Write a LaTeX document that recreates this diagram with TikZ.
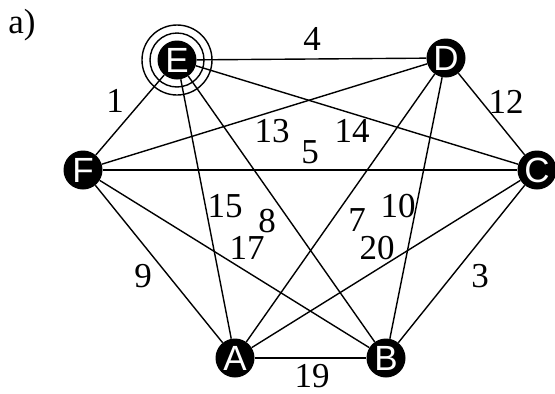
\documentclass[tikz,border=0pt]{standalone}
\usepackage{fontspec}
\setmainfont{Liberation Serif}
\setsansfont{Liberation Sans}
\begin{document}
\begin{tikzpicture}[x=1pt,y=-1pt,
  vtx/.style={circle,fill=black,text=white,inner sep=0pt,minimum size=39pt,
    font=\sffamily\fontsize{35}{35}\selectfont},
  edge/.style={line width=1.4pt},
  wlab/.style={font=\fontsize{35}{35}\selectfont,inner sep=0pt},
  ring/.style={line width=1.4pt}]
\useasboundingbox (0,0) rectangle (555,394);
\node[vtx] (E) at (177,60) {E};
\node[vtx] (D) at (446,58) {D};
\node[vtx] (C) at (537,170) {C};
\node[vtx] (F) at (83,170) {F};
\node[vtx] (A) at (235,358) {A};
\node[vtx] (B) at (386,358) {B};
\draw[ring] (E.center) circle (27);
\draw[ring] (E.center) circle (35);
\begin{scope}[edge]
\draw (E) -- (D);
\draw (E) -- (F);
\draw (E) -- (C);
\draw (E) -- (A);
\draw (E) -- (B);
\draw (D) -- (F);
\draw (D) -- (C);
\draw (D) -- (A);
\draw (D) -- (B);
\draw (F) -- (C);
\draw (F) -- (A);
\draw (F) -- (B);
\draw (C) -- (A);
\draw (C) -- (B);
\draw (A) -- (B);
\end{scope}
\node[wlab] (l4) at (312,39) {4};
\node[wlab] (l1) at (115,101) {1};
\node[wlab] (l13) at (272,131) {13};
\node[wlab] (l14) at (352,131) {14};
\node[wlab] (l5) at (310,152) {5};
\node[wlab] (l12) at (506,102) {12};
\node[wlab] (l15) at (225,206) {15};
\node[wlab] (l8) at (267,221) {8};
\node[wlab] (l17) at (247,248) {17};
\node[wlab] (l7) at (357,220) {7};
\node[wlab] (l10) at (398,206) {10};
\node[wlab] (l20) at (377,248) {20};
\node[wlab] (l9) at (143,276) {9};
\node[wlab] (l3) at (480,276) {3};
\node[wlab] (l19) at (312,376) {19};
\node[wlab] (la) at (22,25) {a)};
\end{tikzpicture}
\end{document}
